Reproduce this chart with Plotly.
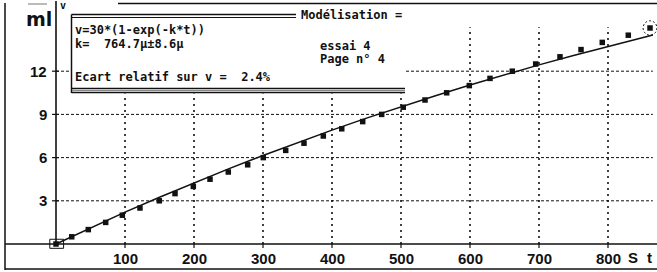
import plotly.graph_objects as go

# ---------------- data ----------------
t_meas = [0, 22.8, 46.8, 72.0, 96.1, 121.7, 149.7, 172.5, 199.0, 223.2, 249.7,
          277.8, 300.4, 332.9, 359.4, 387.4, 414.1, 444.5, 472.0, 503.3, 534.8,
          566.2, 599.0, 629.0, 661.3, 695.2, 730.4, 760.9, 791.7, 829.4, 860.9]
v_meas = [0.0, 0.5, 1.0, 1.5, 2.0, 2.5, 3.0, 3.5, 4.0, 4.5, 5.0,
          5.5, 6.0, 6.5, 7.0, 7.5, 8.0, 8.5, 9.0, 9.5, 10.0,
          10.5, 11.0, 11.5, 12.0, 12.5, 13.0, 13.5, 14.0, 14.5, 15.0]

t_model = [0, 50, 100, 150, 200, 250, 300, 350, 400, 450, 500, 550, 600, 650,
           700, 750, 800, 865]
v_model = [0.0, 1.13, 2.21, 3.25, 4.25, 5.22, 6.15, 7.05, 7.91, 8.74, 9.53,
           10.30, 11.04, 11.75, 12.44, 13.09, 13.73, 14.52]

x_ticks = [100, 200, 300, 400, 500, 600, 700, 800]
x_tick_labels = ["100", "200", "300", "400", "500", "600", "700", "800"]
y_ticks = [3, 6, 9, 12]
y_tick_labels = ["3", "6", "9", "12"]

box_lines = ["v=30*(1-exp(-k*t))", "k=  764.7µ±8.6µ", "Ecart relatif sur v =  2.4%"]
box_title = "Modélisation ="
side_lines = ["essai 4", "Page n° 4"]

# ---------------- geometry helpers (pixel -> data / paper) ----------------
W, H = 657, 272
X0, SX = 56.0, 0.69     # px of t=0, px per second
Y0, SY = 244.0, 14.4    # px of v=0, px per ml


def tx(px):
    return (px - X0) / SX


def vy(py):
    return (Y0 - py) / SY


def PX(px):
    return px / W


def PY(py):
    return 1 - py / H


fig = go.Figure()

shapes = []
BLACK = "#111111"


def hline(x0, x1, py, width=1.5, color=BLACK, dash=None):
    ln = dict(color=color, width=width)
    if dash:
        ln["dash"] = dash
    return dict(type="line", xref="x", yref="y", x0=tx(x0), x1=tx(x1), y0=vy(py), y1=vy(py),
                line=ln, layer="below")


def vline(px, y0, y1, width=1.5, color=BLACK):
    return dict(type="line", xref="x", yref="y", x0=tx(px), x1=tx(px), y0=vy(y0), y1=vy(y1),
                line=dict(color=color, width=width), layer="below")


# grid lines (dotted)
grid_top = 15.05
grid_right = 865
for xt in x_ticks:
    shapes.append(dict(type="line", xref="x", yref="y", x0=xt, x1=xt, y0=0, y1=grid_top,
                       line=dict(color=BLACK, width=1.6, dash="2px,4px"), layer="below"))
for yt in y_ticks:
    shapes.append(dict(type="line", xref="x", yref="y", x0=0, x1=grid_right, y0=yt, y1=yt,
                       line=dict(color=BLACK, width=1, dash="3px,2px"), layer="below"))

# white info box covering grid (same layer as grid, drawn after it)
shapes.append(dict(type="rect", xref="x", yref="y", x0=tx(71.5), x1=tx(405),
                   y0=vy(93.5), y1=vy(14), fillcolor="white", line=dict(width=0), layer="below"))
# box borders
shapes.append(hline(71.5, 296, 14.5, 1.5))
shapes.append(hline(71.5, 296, 17.5, 1.2))
shapes.append(vline(71.5, 14.5, 93))
shapes.append(hline(71.5, 405, 88.5, 1.5))
shapes.append(hline(71.5, 405, 92.5, 1.5))
shapes.append(hline(72, 405, 90.5, 1, "#888888"))

# outer frame
shapes.append(vline(5, 3, 270))
shapes.append(hline(5, 657, 269))
shapes.append(hline(118, 657, 3.5))
shapes.append(hline(28, 47, 4, 1, "#777777"))

# axes
shapes.append(hline(5, 657, Y0, 1.6))
shapes.append(vline(X0, 1, Y0, 1.6))
# ticks
for xt in x_ticks:
    shapes.append(dict(type="line", xref="x", yref="y", x0=xt, x1=xt, y0=0, y1=vy(Y0 + 4),
                       line=dict(color=BLACK, width=1.2), layer="below"))
for yt in y_ticks:
    shapes.append(dict(type="line", xref="x", yref="y", x0=tx(X0 - 4), x1=tx(X0 + 3), y0=yt, y1=yt,
                       line=dict(color=BLACK, width=1.2), layer="below"))

# highlight around first and last measured points
shapes.append(dict(type="rect", xref="x", yref="y", x0=t_meas[0] - 9, x1=t_meas[0] + 11,
                   y0=v_meas[0] - 0.3, y1=v_meas[0] + 0.33, line=dict(color=BLACK, width=1),
                   layer="above"))
shapes.append(dict(type="circle", xref="x", yref="y", x0=t_meas[-1] - 10, x1=t_meas[-1] + 10,
                   y0=v_meas[-1] - 0.5, y1=v_meas[-1] + 0.5,
                   line=dict(color=BLACK, width=1, dash="2px,2px"), layer="above"))

# traces
fig.add_trace(go.Scatter(x=t_model, y=v_model, mode="lines",
                         line=dict(color=BLACK, width=1.5), hoverinfo="skip", showlegend=False))
fig.add_trace(go.Scatter(x=t_meas, y=v_meas, mode="markers",
                         marker=dict(symbol="square", size=5.5, color=BLACK),
                         showlegend=False))

annotations = []
NUMFONT = dict(family="Liberation Sans", size=15, color=BLACK, weight="bold")
MONO = dict(family="DejaVu Sans Mono", size=12, color=BLACK, weight="bold")

for xt, lab in zip(x_ticks, x_tick_labels):
    annotations.append(dict(x=xt, y=vy(258.5), xref="x", yref="y", text=lab, showarrow=False,
                            xanchor="center", yanchor="middle", font=NUMFONT))
for yt, lab in zip(y_ticks, y_tick_labels):
    annotations.append(dict(x=PX(49), y=yt, xref="paper", yref="y", text=lab, showarrow=False,
                            xanchor="right", yanchor="middle", font=NUMFONT))

# axis titles
annotations.append(dict(x=PX(24), y=PY(19), xref="paper", yref="paper", text="ml", showarrow=False,
                        xanchor="left", yanchor="middle",
                        font=dict(family="DejaVu Sans", size=19, color=BLACK, weight="bold")))
annotations.append(dict(x=PX(58), y=PY(5), xref="paper", yref="paper", text="v", showarrow=False,
                        xanchor="left", yanchor="middle",
                        font=dict(family="DejaVu Sans Mono", size=10, color=BLACK, weight="bold")))
annotations.append(dict(x=PX(633), y=PY(257), xref="paper", yref="paper", text="S", showarrow=False,
                        xanchor="center", yanchor="middle", font=NUMFONT))
annotations.append(dict(x=PX(649), y=PY(257), xref="paper", yref="paper", text="t", showarrow=False,
                        xanchor="center", yanchor="middle", font=NUMFONT))

# info box text
for txt, py in zip(box_lines, [30, 44, 77]):
    annotations.append(dict(x=PX(73), y=PY(py), xref="paper", yref="paper", text=txt,
                            showarrow=False, xanchor="left", yanchor="middle", font=MONO))
annotations.append(dict(x=PX(299), y=PY(15), xref="paper", yref="paper", text=box_title,
                        showarrow=False, xanchor="left", yanchor="middle", font=MONO))
for txt, py in zip(side_lines, [46, 59]):
    annotations.append(dict(x=PX(318), y=PY(py), xref="paper", yref="paper", text=txt,
                            showarrow=False, xanchor="left", yanchor="middle", font=MONO))

fig.update_layout(
    width=W, height=H,
    margin=dict(l=0, r=0, t=0, b=0),
    paper_bgcolor="white", plot_bgcolor="white",
    xaxis=dict(range=[tx(0), tx(W)], visible=False, fixedrange=True),
    yaxis=dict(range=[vy(H), vy(0)], visible=False, fixedrange=True),
    shapes=shapes, annotations=annotations,
    showlegend=False,
)

fig.write_html("out.html", config={"displayModeBar": False},
               post_script="document.body.style.margin='0px';document.body.style.overflow='hidden';")
